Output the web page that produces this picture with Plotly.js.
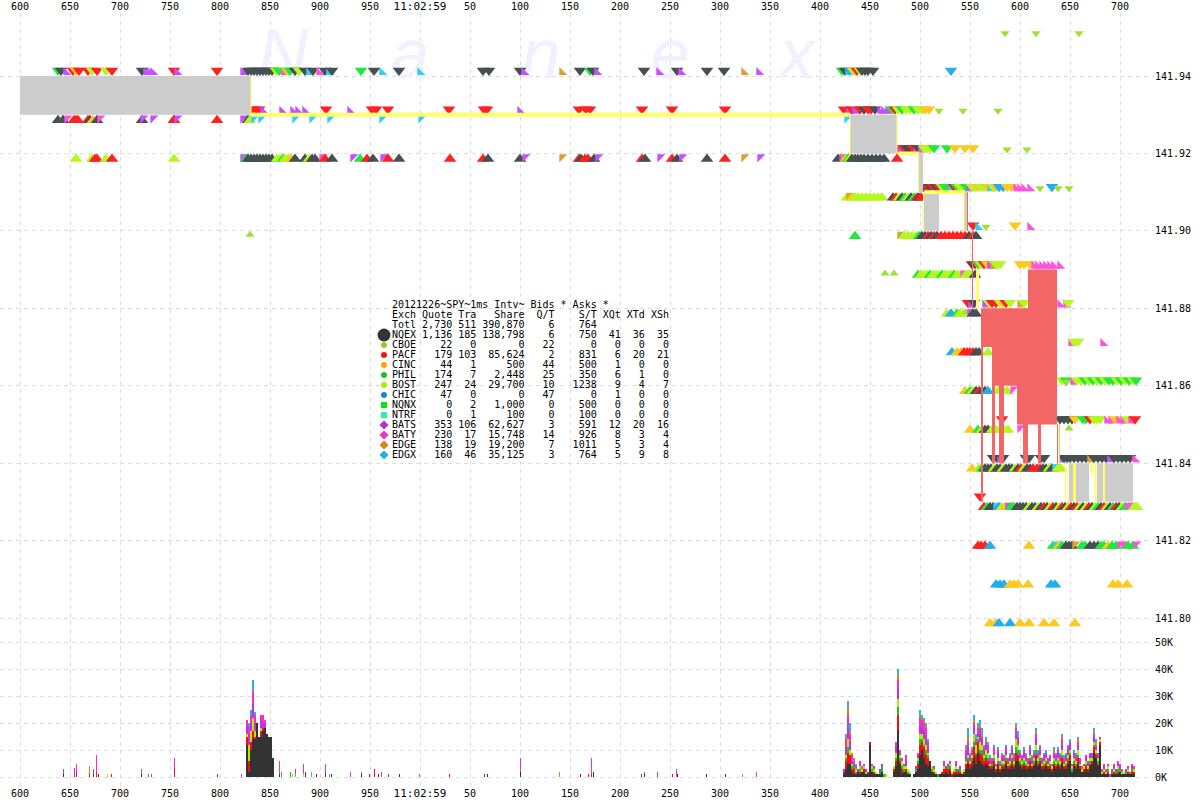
<!DOCTYPE html>
<html><head><meta charset="utf-8">
<script src="https://cdn.plot.ly/plotly-3.0.1.min.js"></script>
<style>html,body{margin:0;padding:0;background:#fff}#c{width:1200px;height:800px}</style></head>
<body><div id="c"></div>
<script>
// x values are axis offsets: tick "600" sits at 20, "11:02:59" at 420, "700" (next second) at 1120
const tickX=[20,70,120,170,220,270,320,370,420,470,520,570,620,670,720,770,820,870,920,970,1020,1070,1120];
const tickText=['600','650','700','750','800','850','900','950','<span style="font-size:11px">11:02:59</span>','50','100','150','200','250','300','350','400','450','500','550','600','650','700'];
const priceTicks=[141.80,141.82,141.84,141.86,141.88,141.90,141.92,141.94];
const volTicks=[0,10,20,30,40,50];
const volTickText=['0K','10K','20K','30K','40K','50K'];

// quote marks: position + exchange letter
const ask95="1005C 1036C 1079C".split(" ");
const ask94="58G 61D 66P 73R 76O 79R 88R 92L 97R 106L 112R 142D 146P 150P 153P 174R 177P 217R 243P 248D 251D 254D 257D 260D 263D 266D 269D 272D 276L 279G 282G 284M 287O 290G 295D 299L 305D 309X 313D 319M 325D 329X 332D 361G 374D 382X 399D 420X 483D 489D 520D 524P 562E 580D 590G 593D 597P 644D 659P 677D 681P 707D 724D 744E 759P 842G 845D 848X 850B 853L 855O 857R 860L 862D 865D 868D 873D 951B".split(" ");
const ask93="252R 256R 259R 263P 282P 293P 298P 305P 326R 350P 372R 376R 388R 449R 484R 487R 520P 579R 586R 590R 642R 672R 725R 844R 849P 852R 855P 860R 864D 868R 871R 875D 880P 884P 888P 892G 895R 898L 902G 906L 910L 914G 918L 922L 925O 929O 939C 963C 998C".split(" ");
const bid93="58D 63G 63D 67M 74R 78R 76R 88R 90D 93O 97D 100M 142D 143P 153P 174D 174R 177P 217R 243P 248D 250L 254X 261X 295X 312X 330X 382X 421X 847X".split(" ");
const ask92="898R 901P 904R 907D 910D 913R 916P 918D 921M 924L 927L 930L 934G 947G 955O 965O 973O 1007C 1027C".split(" ");
const bid92="76L 92L 95R 97R 106L 112R 174L 243P 246G 248D 251D 254D 257D 260D 263D 266D 269D 272D 277L 280L 283G 285L 288L 291O 295D 305D 309L 312D 315D 322M 325R 332D 353P 360G 367R 373D 383P 388R 399D 450R 483R 488D 520D 525P 562E 579R 581D 585R 588R 594D 598P 642R 645D 660P 672R 677D 682P 707D 725R 744E 760P 838D 842P 844E 846O 848G 850L 852D 855D 858D 861D 864D 868D 872D 876D 880D 884D 897R".split(" ");
const ask91="924D 927R 930D 933R 936D 939R 942L 945G 948G 951X 954R 957G 960L 963L 966G 969P 972L 975L 978O 981L 984L 987O 990X 993L 996O 999B 1003B 1007O 1011O 1016M 1020M 1024M 1030M 1040C 1052B 1058C 1069C".split(" ");
const bid91="847L 849E 852O 855L 858L 862L 866L 870L 874L 878L 882L 893D 896R 899L 902D 905G 908L 911D 914G 917R 919D 921R".split(" ");
const ask90="973R 978X 986C 1015O 1030M".split(" ");
const bid90="250C 855G 900E 904L 908L 912L 916L 919G 922D 925D 928R 931D 934R 937D 941R 945R 949R 953R 957R 961R 965R 969D 973R 976D".split(" ");
const ask89="972D 975R 978G 981L 984R 987O 990P 993E 996L 1000L 1020O 1024O 1030O 1034M 1038M 1042M 1046M 1050M 1054M 1060M".split(" ");
const bid89="885C 894C 918G 921L 924L 927L 930G 933L 936L 939L 942G 945L 948L 951L 954G 957L 960L 963M 966L 969L 972L 975D".split(" ");
const ask88="968R 971P 974D 985P 989L 992R 996R 1000L 1003O 1006R 1010L 1020E 1024L 1060M 1066M 1068L".split(" ");
const bid88="947L 951B 957G 960L 963L 966C 970P 973D 976D".split(" ");
const ask87="1071M 1074L 1078L 1103M".split(" ");
const bid87="952B 957O 961O 964R 967R 970R 973R 976D 979D 988L".split(" ");
const ask86="1062L 1066G 1067C 1073M 1077L 1081L 1085G 1089L 1093G 1097L 1101G 1105L 1109G 1113G 1117L 1121G 1125L 1129G 1133L 1136G".split(" ");
const bid86="965O 970G 973L 976D 979R 982D 985D 988B 998L 1003L 1007L 1013M".split(" ");
const ask85="1002R 1060D 1064D 1068D 1072D 1075O 1083G 1086G 1090R 1094L 1097L 1100L 1107M 1111M 1115O 1119M 1123M 1127L 1131M 1135R".split(" ");
const bid85="970O 978G 982L 985D 988D 992L 996L 1000L 1004L 1008L 1020M 1069C".split(" ");
const ask84="993D 997D 1000P 1003D 1026D 1029D 1041D 1044D 1060P 1064D 1067D 1070D 1074D 1078D 1082D 1086D 1090E 1094D 1098D 1102D 1106D 1110P 1114D 1118D 1122D 1126D 1130D 1135M".split(" ");
const bid84="972O 979L 982G 985D 988D 991D 994L 997D 1000D 1003L 1006D 1009D 1012D 1015L 1018D 1021R 1024L 1027D 1030D 1033R 1037R 1040R 1043D 1046D 1049L 1052D 1055X 1058L 1061L".split(" ");
const ask83="980R".split(" ");
const bid83="984R 987G 990D 993D 996X 999B 1002L 1005O 1008P 1011G 1014G 1017D 1020D 1023D 1026D 1029L 1032D 1035D 1038L 1041D 1044R 1047D 1050L 1053R 1056D 1059L 1062R 1065D 1068L 1071R 1074D 1077R 1080L 1083D 1086L 1089R 1092D 1095L 1098G 1101D 1104R 1107L 1110D 1113G 1116R 1119D 1122L 1125G 1128M 1131M 1134L 1137L".split(" ");
const bid82="978R 981R 985R 990B 1029O 1053G 1056X 1059O 1062G 1066D 1069D 1072D 1075E 1082G 1085G 1090D 1094D 1098D 1101G 1104G 1108O 1112G 1116G 1120M 1124M 1128G 1133G 1136M".split(" ");
const bid81="996B 1000B 1004B 1010O 1014O 1018O 1028O 1051B 1055B 1113O 1118O 1127O".split(" ");
const bid80="990O 996O 999B 1010B 1020O 1029O 1044O 1054O 1075O".split(" ");

// NBBO spread blocks: x0, x1, low price, high price
const grayBlocks=[[20,251,141.93,141.94],[850,897,141.92,141.93],[919,923,141.91,141.92],[924,939,141.90,141.91],[964,968,141.90,141.91],[1069,1073,141.83,141.84],[1076,1089,141.83,141.84],[1097,1103,141.83,141.84],[1105,1133,141.83,141.84],[1058,1060,141.84,141.85]];
const redBlocks=[[981,992,141.87,141.88],[992,1017,141.86,141.88],[1017,1028,141.85,141.88],[1028,1057,141.85,141.89],[981,983,141.83,141.87],[992,995,141.84,141.86],[999,1004,141.84,141.86],[1023,1028,141.84,141.85],[1038,1041,141.84,141.85],[1057,1058,141.84,141.85],[972,973,141.88,141.90],[976,977,141.88,141.89],[967,968,141.90,141.91]];
const yellowBlocks=[[251,850,141.9295,141.9305],[898,919,141.9195,141.9205],[924,964,141.9095,141.9105],[250.5,251.5,141.93,141.94],[849.5,850.5,141.92,141.93],[896.5,897.5,141.92,141.93],[918,919,141.91,141.92],[923,924,141.90,141.91],[963.5,964.5,141.90,141.91],[976,979,141.88,141.89],[1058,1059,141.84,141.85],[1065,1066,141.83,141.84],[1067.5,1068.5,141.83,141.84],[1073,1076,141.83,141.84],[1090,1093,141.8375,141.84],[1094.5,1096.5,141.83,141.84],[1103,1105,141.83,141.84]];

// quotes/sec in thousands: dense columns 844..1134, every 2
const nqex=[1,3,5,5,2,1,1,2,1,2, 2,1,1,12,2,1,1,1,1,2, 0,0,0,0,0,2,4,17,5,1, 2,2,1,1,0,1,2,3,8,10, 7,5,4,6,2,1,1,0,1,1, 1,2,1,2,0,1,1,1,1,1, 1,3,5,3,4,7,5,9,6,5, 4,5,4,3,3,4,2,4,2,3, 3,5,3,3,4,3,6,6,4,3, 4,3,3,4,3,4,6,4,5,3, 3,4,3,3,2,4,3,4,3,5, 3,3,5,6,2,4,3,5,3,2, 2,3,2,4,5,9,7,4,12,1, 1,1,1,0,1,1,1,1,2,1, 1,1,1,1,1,1];
const pacf=[1,3,4,3,1,2,0,0,1,0, 1,0,1,1,0,1,0,0,0,0, 0,0,0,0,0,1,2,6,1,2, 0,1,0,0,0,0,0,2,4,3, 4,3,3,0,0,1,0,0,0,1, 2,1,2,1,1,1,1,1,1,0, 1,2,1,2,2,4,3,4,3,3, 2,2,2,1,1,2,1,1,1,1, 1,1,1,1,2,1,3,2,1,1, 1,1,1,2,1,1,2,1,1,1, 1,1,1,1,1,1,1,1,1,2, 1,1,1,2,0,1,1,2,1,0, 1,1,1,1,1,2,1,1,1,0, 1,0,1,0,0,1,0,1,0,0, 0,0,1,0,1,1];
const phil=[0,1,2,0,1,1,1,0,1,0, 0,0,0,0,1,0,0,0,1,2, 1,0,0,0,0,0,1,3,1,1, 1,0,1,0,0,0,1,1,2,1, 1,2,1,0,1,0,0,1,0,0, 0,0,1,1,0,0,1,0,1,0, 0,0,1,0,1,2,1,1,1,2, 1,1,1,0,1,1,0,1,0,1, 1,1,0,1,1,1,2,2,1,1, 1,1,0,1,0,1,2,1,1,0, 1,1,0,1,0,1,1,1,1,1, 0,1,1,1,1,1,1,1,0,0, 0,1,0,1,0,1,1,1,0,0, 0,0,1,0,1,0,1,1,1,0, 0,1,0,0,1,0];
const bost=[0,1,3,2,1,0,1,0,1,1, 1,1,0,0,1,1,1,0,0,0, 0,1,0,0,0,1,2,3,1,2, 1,1,1,1,0,0,0,1,2,2, 2,2,1,0,1,1,1,0,0,0, 1,0,0,1,1,1,1,0,0,1, 1,1,1,1,1,3,3,1,3,2, 1,2,2,1,0,1,1,1,1,1, 1,1,1,1,1,1,3,2,1,1, 1,1,1,1,1,1,2,1,1,1, 1,1,1,1,1,1,1,1,1,2, 1,1,1,1,1,1,1,2,1,1, 1,1,1,1,1,1,1,1,1,1, 1,1,1,0,0,1,0,1,0,1, 1,0,1,0,0,1];
const bats=[1,3,4,3,1,1,0,1,1,0, 0,1,0,0,0,1,0,0,1,1, 0,0,0,0,0,0,2,4,1,0, 1,2,0,0,0,0,1,1,3,2, 3,3,2,0,0,1,0,0,0,0, 1,1,1,0,0,0,1,1,1,0, 0,2,3,1,1,2,1,1,3,2, 2,2,1,1,1,1,1,2,1,1, 1,2,1,1,2,1,2,2,1,1, 2,1,1,2,1,1,2,1,2,1, 1,1,1,1,0,1,1,2,1,2, 1,1,2,2,0,1,1,2,1,0, 0,1,1,1,1,2,1,1,1,0, 1,0,0,0,1,1,1,1,1,0, 0,1,0,0,1,0];
const baty=[0,3,5,3,2,1,1,0,1,1, 1,0,0,0,1,0,0,0,0,0, 0,0,0,0,0,0,2,3,1,1, 0,2,0,0,0,0,0,1,3,3, 3,3,2,0,0,0,0,0,0,0, 1,0,0,1,0,0,1,0,0,0, 0,2,2,1,1,2,1,2,2,1, 1,1,2,1,1,2,0,1,1,1, 1,1,1,1,1,1,2,1,1,1, 1,1,1,1,1,1,2,1,1,1, 1,1,1,1,1,1,1,1,1,2, 1,1,1,1,1,1,1,1,1,1, 1,1,1,1,1,1,1,1,0,1, 1,1,1,1,0,1,0,1,1,1, 0,0,1,1,1,1];
const edge=[0,1,3,1,1,1,0,0,0,0, 0,0,0,0,0,0,0,0,0,0, 0,0,0,0,0,0,0,2,0,0, 0,0,0,0,0,0,0,0,1,1, 1,1,0,0,0,0,0,0,0,0, 0,0,0,0,0,0,0,0,0,0, 0,1,2,0,0,1,0,1,1,1, 0,1,0,0,0,0,0,0,0,0, 0,0,0,0,0,0,1,0,0,0, 0,0,0,0,0,0,1,0,0,0, 0,0,0,0,0,1,0,0,0,1, 0,0,0,0,0,0,0,1,0,0, 0,0,0,0,0,1,1,0,0,0, 0,0,0,0,0,0,0,0,0,0, 0,0,0,0,0,0];
const edgx=[0,1,2,3,0,0,1,0,0,0, 0,0,0,0,0,0,0,0,0,0, 0,0,0,0,0,0,0,2,0,0, 0,0,0,0,0,0,0,0,2,1, 1,1,1,0,0,0,0,0,0,0, 0,0,0,0,0,0,0,0,0,0, 0,1,3,1,1,2,2,1,2,2, 1,1,1,1,0,1,0,1,0,1, 0,1,0,1,1,1,1,2,1,0, 1,1,0,1,1,1,1,1,1,0, 1,1,0,0,0,1,1,1,1,1, 1,1,1,1,0,1,1,1,0,0, 0,0,0,0,0,1,1,0,0,0, 0,0,0,0,0,0,0,0,0,0, 0,0,0,0,0,0];
// burst columns 247..273, every 2
const burstDark=[12,2,10,14,14,20,15,15,17,18,16,15,15,7];
const burstRed=[3,4,3,3,1,0,0,2,1,0,0,0,0,0];
const burstLime=[1,6,4,5,2,0,0,1,0,0,0,0,0,0];
const burstPurple=[3,4,3,5,3,0,0,3,2,2,0,0,0,0];
const burstMagenta=[2,3,3,5,3,0,0,2,3,1,0,0,0,0];
const burstBlue=[0,1,2,4,1,0,0,0,0,0,0,0,0,0];
// isolated spikes: x, lower K, lower exch, upper K, upper exch
const spikeX=[63,74,76,89,93,96,98,107,111,141,148,151,174,217,241,279,281,290,292,295,303,305,311,316,325,329,331,350,361,369,374,378,381,388,399,419,449,484,487,520,559,580,588,591,593,641,644,657,672,676,677,706,725,742,756];
const spikeLow=[1,.5,2,1,1,2,1,1,1,1,1,1,3,1,1,1,1,2,1,1,1,2,2,1,2,1,1,1,1,1,1,1,.5,1,1,1,1,1,1,2,2,1,1,1,2,1,1,2,1,1,1,1,1,1,2];
const spikeLowEx="DRRRDRDLRDPPRRPDGGOXLDXDRXDPDRRDXRDXRRDDEDRRDRDMRMDDDEM".split("");
const spikeHigh=[2,3,3,3,2,6,0,0,0,2,0,0,4,0,0,5,1,0,0,2,4,0,0,0,3,0,0,1,1,0,2,0,1.5,0,0,0,0,0,0,5,0,0,0,6,0,0,1,0,0,2,0,0,0,0,0];
const spikeHighEx="PPMEPMLLLMPPMRPMMGOPMDXDMXDMGRRDMRDXRRDMEDRMDRGMRMDDDEM".split("");

// legend table
const exch=['NQEX','CBOE','PACF','CINC','PHIL','BOST','CHIC','NQNX','NTRF','BATS','BATY','EDGE','EDGX'];
const quotes=['1,136','22','179','44','174','247','47','0','0','353','230','138','160'];
const trades=['185','0','103','1','7','24','0','2','1','106','17','19','46'];
const shares=['138,798','0','85,624','500','2,448','29,700','0','1,000','100','62,627','15,748','19,200','35,125'];
const qPerT=['6','22','2','44','25','10','47','0','0','3','14','7','3'];
const sPerT=['750','0','831','500','350','1238','0','500','100','591','926','1011','764'];
const pctQt=['41','0','6','1','6','9','1','0','0','12','8','5','5'];
const pctTd=['36','0','20','0','1','4','0','0','0','20','3','3','9'];
const pctSh=['35','0','21','0','0','7','0','0','0','16','4','4','8'];
const legendColors=['#333333','#99cc22','#ff1010','#f8a808','#20c020','#a8f000','#1888d0','#10e010','#30f0b0','#b030e0','#f030c0','#d08818','#20b0e8'];
const legendSymbols=['circle','circle','circle','circle','circle','circle','circle','square','square','diamond','diamond','diamond','diamond'];

const COL={D:'#465050',R:'#ff2020',L:'#b4f81e',G:'#20e83c',O:'#ffc81e',B:'#20aef0',C:'#a0e030',P:'#c450ff',M:'#ff50e0',E:'#dca030',X:'#33ccff'};
const BARCOL={D:'#333333',R:'#f01010',L:'#aaf000',G:'#20c020',O:'#f8a808',B:'#1888d0',P:'#c030e8',M:'#f030c8',E:'#d08818',X:'#28b4e0',C:'#99cc22'};
const PX_PER_PRICE=3871.5;
const pyToPrice=py=>141.94-(py-76)/PX_PER_PRICE;
const rowDefs=[[ask95,141.95,1],[ask94,141.94,1],[bid93,141.93,0],[ask93,141.93,1],[bid92,141.92,0],[ask92,141.92,1],[bid91,141.91,0],[ask91,141.91,1],[bid90,141.90,0],[ask90,141.90,1],[bid89,141.89,0],[ask89,141.89,1],[bid88,141.88,0],[ask88,141.88,1],[bid87,141.87,0],[ask87,141.87,1],[bid86,141.86,0],[ask86,141.86,1],[bid85,141.85,0],[ask85,141.85,1],[bid84,141.84,0],[ask84,141.84,1],[bid83,141.83,0],[ask83,141.83,1],[bid82,141.82,0],[bid81,141.81,0],[bid80,141.80,0]];
const HALF='PMEX';
const traces=[];
// watermark
traces.push({x:[283,410,541,670,797],y:[60,60,60,60,60].map(pyToPrice),text:['N','a','n','e','x'],mode:'text',xaxis:'x2',yaxis:'y',
  textposition:'middle center',textfont:{family:'Liberation Sans',size:70,style:'italic',color:'#f0f0ff'},hoverinfo:'skip'});
rowDefs.forEach(([row,price,isAsk])=>{
  const xs=[],ys=[],cs=[],ss=[],sy=[];
  row.forEach(tok=>{
    const code=tok.slice(-1),x=+tok.slice(0,-1),half=HALF.includes(code);
    const size=half?9:(code==='C'?8:11);
    const r=half?3.6:size/2;
    xs.push(x);ys.push(price+(isAsk?r:-r)/PX_PER_PRICE);cs.push(COL[code]);ss.push(size);
    sy.push(half?(isAsk?'triangle-sw':'triangle-nw'):(isAsk?'triangle-down':'triangle-up'));
  });
  traces.push({x:xs,y:ys,mode:'markers',xaxis:'x2',yaxis:'y',marker:{color:cs,size:ss,symbol:sy,opacity:1,line:{width:0}},hoverinfo:'skip'});
});
function blocks(list,color){
  const xs=[],ys=[];
  list.forEach(([a,b,l,h])=>{xs.push(a,b,b,a,a,null);ys.push(l,l,h,h,l,null);});
  return {x:xs,y:ys,mode:'lines',fill:'toself',fillcolor:color,line:{width:0,color:color},xaxis:'x2',yaxis:'y',hoverinfo:'skip'};
}
traces.push(blocks(grayBlocks,'#cccccc'));
traces.push(blocks(redBlocks,'#f26666'));
traces.push(blocks(yellowBlocks,'#ffff66'));
// legend markers
traces.push({x:exch.map(()=>384),y:exch.map((e,i)=>pyToPrice(335+i*10)),mode:'markers',xaxis:'x2',yaxis:'y',hoverinfo:'skip',
  marker:{color:legendColors,symbol:legendSymbols,opacity:1,size:exch.map((e,i)=>i===0?13:(i>8?7:6)),line:{width:0}}});
// legend text
const pad=(s,n)=>String(s).padStart(n,'\u00A0');
const rowText=(a,b,c,d,e,f,g,h,i)=>(a+pad(b,10-a.length)+pad(c,4)+pad(d,8)+pad(e,5)+pad(f,7)+pad(g,4)+pad(h,4)+pad(i,4));
const tableLines=['20121226~SPY~1ms Intv~ Bids * Asks *'.replace(/ /g,'\u00A0'),
  rowText('Exch','Quote','Tra','Share','Q/T','S/T','XQt','XTd','XSh'),
  rowText('Totl','2,730','511','390,870','6','764','','','')];
exch.forEach((e,i)=>tableLines.push(rowText(e,quotes[i],trades[i],shares[i],qPerT[i],sPerT[i],pctQt[i],pctTd[i],pctSh[i])));
traces.push({x:tableLines.map(()=>392),y:tableLines.map((t,i)=>pyToPrice(305.7+i*10)),text:tableLines,mode:'text',xaxis:'x2',yaxis:'y',
  textposition:'middle right',textfont:{family:'DejaVu Sans Mono',size:10,color:'#000'},hoverinfo:'skip',cliponaxis:false});
traces.push({x:[1074],y:[pyToPrice(647)],text:['Quotes/Sec'],mode:'text',xaxis:'x2',yaxis:'y',textposition:'middle center',
  textfont:{family:'DejaVu Sans Mono',size:10,color:'#000'},hoverinfo:'skip',cliponaxis:false});
// bars
const denseX=nqex.map((v,i)=>844+2*i);
[[nqex,'D'],[pacf,'R'],[phil,'G'],[bost,'L'],[bats,'P'],[baty,'M'],[edge,'E'],[edgx,'X']].forEach(([vals,c])=>{
  traces.push({type:'bar',x:denseX,y:vals,width:2,marker:{color:BARCOL[c],line:{width:0}},xaxis:'x',yaxis:'y2',hoverinfo:'skip'});
});
const burstX=burstDark.map((v,i)=>247+2*i);
[[burstDark,'D'],[burstRed,'R'],[burstLime,'L'],[burstPurple,'P'],[burstMagenta,'M'],[burstBlue,'X']].forEach(([vals,c])=>{
  traces.push({type:'bar',x:burstX,y:vals,width:2,marker:{color:BARCOL[c],line:{width:0}},xaxis:'x',yaxis:'y2',hoverinfo:'skip'});
});
traces.push({type:'bar',x:spikeX.map(v=>v+0.5),y:spikeLow,width:1,marker:{color:spikeLowEx.map(c=>BARCOL[c]),line:{width:0}},xaxis:'x',yaxis:'y2',hoverinfo:'skip'});
traces.push({type:'bar',x:spikeX.map(v=>v+0.5),y:spikeHigh,width:1,marker:{color:spikeHighEx.map(c=>BARCOL[c]),line:{width:0}},xaxis:'x',yaxis:'y2',hoverinfo:'skip'});

const GRID='#dddddd';
const tickFont={family:'DejaVu Sans Mono',size:10,color:'#000'};
const xBase={range:[0,1154],domain:[0,1],tickmode:'array',tickvals:tickX,ticktext:tickText,tickangle:0,showgrid:true,gridcolor:GRID,griddash:'4px,4px',gridwidth:1,zeroline:false,showline:false,ticks:'',tickfont:tickFont,fixedrange:true};
const yBase={side:'right',tickmode:'array',showgrid:true,gridcolor:GRID,griddash:'4px,4px',gridwidth:1,zeroline:false,showline:false,ticks:'',tickfont:tickFont,fixedrange:true};
const H=800,T=13,B=14;
const inner=H-T-B, splitPy=630;
const layout={width:1200,height:800,margin:{l:0,r:46,t:T,b:B,pad:0},paper_bgcolor:'#fff',plot_bgcolor:'#fff',showlegend:false,hovermode:false,barmode:'stack',bargap:0,
  xaxis:Object.assign({},xBase,{anchor:'y2',side:'bottom'}),
  xaxis2:Object.assign({},xBase,{anchor:'y',side:'top'}),
  yaxis:Object.assign({},yBase,{anchor:'x2',domain:[(H-B-splitPy)/inner,1],range:[pyToPrice(splitPy),pyToPrice(T)],tickvals:priceTicks,ticktext:priceTicks.map(v=>v.toFixed(2))}),
  yaxis2:Object.assign({},yBase,{anchor:'x',domain:[0,(H-B-splitPy)/inner],range:[(777-(H-B))/2.7,(777-splitPy)/2.7],tickvals:volTicks,ticktext:volTickText})
};
Plotly.newPlot('c',traces,layout,{displayModeBar:false,staticPlot:true});
</script></body></html>
